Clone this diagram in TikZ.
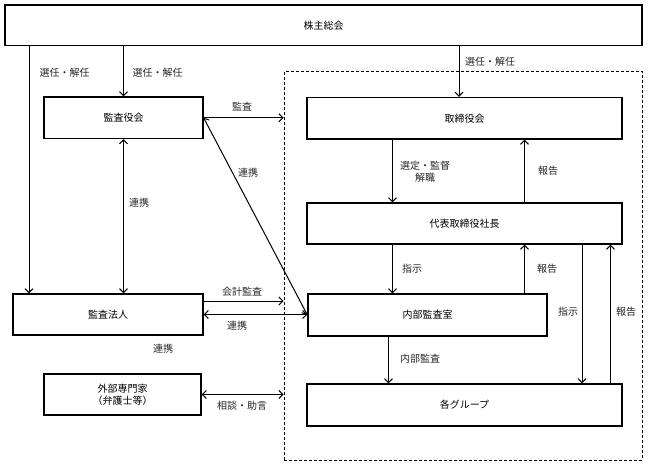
\documentclass[tikz,border=0pt]{standalone}
\usepackage{fontspec}
\newfontfamily\jp{Noto Sans CJK JP}
\usetikzlibrary{arrows.meta}
\begin{document}
\begin{tikzpicture}[x=1pt,y=-1pt,
  font=\jp\fontsize{10}{12}\selectfont,
  box/.style={draw, line width=1.2pt, inner sep=0pt, anchor=center, align=center},
  grpbox/.style={draw, line width=1pt, dash pattern=on 3pt off 2pt, inner sep=0pt, anchor=center},
  arr/.style={line width=1pt, -{Straight Barb[length=4pt,width=8pt]}},
  darr/.style={line width=1pt, {Straight Barb[length=4pt,width=8pt]}-{Straight Barb[length=4pt,width=8pt]}},
  lbl/.style={inner sep=0pt, text=black!85, align=center}]
\useasboundingbox (0,0) rectangle (648,465);
% boxes
\node[grpbox, minimum width=358pt, minimum height=388.5pt] (grp) at (463,265.75) {};
\node[box, minimum width=637pt, minimum height=40.5pt] (soukai) at (323.5,25.25) {株主総会};
\node[box, minimum width=159pt, minimum height=41.5pt] (kansayaku) at (123.5,117.75) {監査役会};
\node[box, minimum width=315pt, minimum height=41.5pt] (tori) at (464.5,118.25) {取締役会};
\node[box, minimum width=315pt, minimum height=41pt] (daihyo) at (464.5,223.5) {代表取締役社長};
\node[box, minimum width=239pt, minimum height=42pt] (naibu) at (427.5,315) {内部監査室};
\node[box, minimum width=190pt, minimum height=41pt] (hojin) at (108,314.5) {監査法人};
\node[box, minimum width=157pt, minimum height=41pt] (gaibu) at (122.5,394.5) {外部専門家\\（弁護士等）};
\node[box, minimum width=315pt, minimum height=42pt] (group) at (464.5,405) {各グループ};
% x positions of vertical connectors
\coordinate (xa) at (29,0);
\coordinate (xc) at (459,0);
\coordinate (xd) at (392.5,0);
\coordinate (xe) at (524.5,0);
\coordinate (xf) at (582,0);
\coordinate (xg) at (610.5,0);
\coordinate (xh) at (388.5,0);
% connectors
\draw[arr] (soukai.south -| xa) -- (hojin.north -| xa);
\draw[arr] (soukai.south -| kansayaku.north) -- (kansayaku.north);
\draw[arr] (soukai.south -| xc) -- (tori.north -| xc);
\draw[darr] (kansayaku.south) -- (kansayaku.south |- hojin.north);
\draw[arr] (kansayaku.east) -- (kansayaku.east -| grp.west);
\draw[darr] (kansayaku.east) -- (naibu.west);
\draw[arr] ([yshift=13.5pt]hojin.east) -- ([yshift=13.5pt]hojin.east -| grp.west);
\draw[darr] (hojin.east) -- (hojin.east -| naibu.west);
\draw[darr] (gaibu.east) -- (gaibu.east -| grp.west);
\draw[arr] (tori.south -| xd) -- (daihyo.north -| xd);
\draw[arr] (daihyo.north -| xe) -- (tori.south -| xe);
\draw[arr] (daihyo.south -| xd) -- (naibu.north -| xd);
\draw[arr] (naibu.north -| xe) -- (daihyo.south -| xe);
\draw[arr] (daihyo.south -| xf) -- (group.north -| xf);
\draw[arr] (group.north -| xg) -- (daihyo.south -| xg);
\draw[arr] (naibu.south -| xh) -- (group.north -| xh);
% labels
\node[lbl] (l1) at (64.5,73) {選任・解任};
\node[lbl] (l2) at (157.5,73) {選任・解任};
\node[lbl] (l3) at (490,62) {選任・解任};
\node[lbl] (l4) at (242,107) {監査};
\node[lbl] (l5) at (248,173) {連携};
\node[lbl] (l6) at (139,203) {連携};
\node[lbl] (l7) at (425,172) {選定・監督\\解職};
\node[lbl] (l8) at (548,171) {報告};
\node[lbl] (l9) at (412,269) {指示};
\node[lbl] (l10) at (547,269) {報告};
\node[lbl] (l11) at (568,312) {指示};
\node[lbl] (l12) at (626,312) {報告};
\node[lbl] (l13) at (242,292) {会計監査};
\node[lbl] (l14) at (237,326) {連携};
\node[lbl] (l15) at (163,349) {連携};
\node[lbl] (l16) at (242,406) {相談・助言};
\node[lbl] (l17) at (420,359) {内部監査};
\end{tikzpicture}
\end{document}
